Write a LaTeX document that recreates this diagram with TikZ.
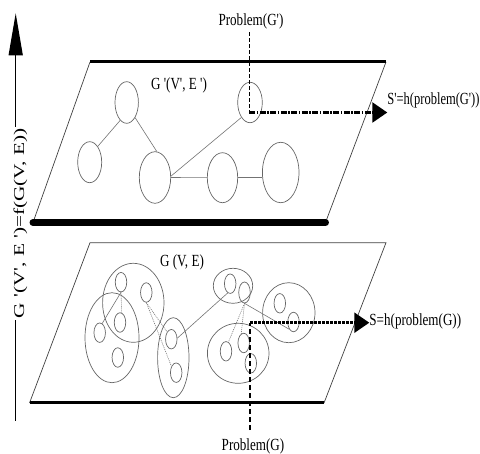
\documentclass[tikz,border=0pt]{standalone}
\usepackage{fontspec}
\setmainfont{Liberation Serif}
\usetikzlibrary{shapes.geometric,arrows.meta}
\newcommand\sq{\textquotesingle}
\begin{document}
\begin{tikzpicture}[x=1pt,y=-1pt,
  side/.style={line width=0.7pt, draw=black!75},
  vtx/.style n args={2}{ellipse, draw=black!60, line width=0.7pt, inner sep=0pt,
    minimum width=#1, minimum height=#2},
  sm/.style={vtx={11.5}{19.5}},
  link/.style={draw=black!55, line width=0.6pt},
  dlink/.style={draw=black!55, line width=0.6pt, dash pattern=on 1pt off 1pt},
  lbl/.style={font=\fontsize{17}{19}\selectfont, xscale=0.77, inner sep=0pt},
  bigtip/.style={-{Triangle[length=15pt,width=20pt]}},
]
\useasboundingbox (0,0) rectangle (480,454);

% ---------- upper plane ----------
\coordinate (u1) at (90,62);
\coordinate (u2) at (386,62);
\coordinate (u3) at (325.5,222.5);
\coordinate (u4) at (33,222.5);
\draw[side] (u1) -- (u4);
\draw[side] (u2) -- (u3);
\draw[line width=3pt] (u1) -- (u2);
\draw[line width=7pt, line cap=round] (u4) -- (u3);

% ---------- lower plane ----------
\coordinate (l1) at (90,242.7);
\coordinate (l2) at (386,242.7);
\coordinate (l3) at (324,403);
\coordinate (l4) at (29.5,403);
\draw[side] (l4) -- (l1) -- (l2) -- (l3);
\draw[line width=3pt] (l4) -- (l3);

% ---------- upper graph ----------
\node[vtx={23.4}{41.6}] (A) at (126.7,102.5) {};
\node[vtx={24}{41}]     (B) at (89.7,162.2) {};
\node[vtx={31.4}{51.6}] (C) at (155,177.5) {};
\node[vtx={30.4}{50}]   (D) at (222.5,177.7) {};
\node[vtx={36.6}{60.4}] (E) at (280.7,172.5) {};
\node[vtx={24.6}{40.4}] (F) at (250,102.5) {};
\draw[link] (A.250) -- (B.63);
\draw[link] (A.299) -- (C.86);
\draw[link] (C.5) -- (F.240);
\draw[link] (C.east) -- (D.west);
\draw[link] (D.east) -- (E.west |- D.east);
\node[lbl, anchor=base] (gp) at (179,89.5) {G \sq(V\sq, E \sq)};

% ---------- lower graph ----------
\node[vtx={61.4}{79}] (K1) at (133.3,302.8) {};
\node[vtx={54}{90}]   (K2) at (112,337.7) {};
\node[vtx={31.4}{80}] (K3) at (173.3,357.7) {};
\node[vtx={39.4}{35}] (K4) at (233,285.8) {};
\node[vtx={52.4}{60}] (K5) at (288.8,312.7) {};
\node[vtx={61.6}{60}] (K6) at (238.2,353.3) {};
\node[sm] (n1) at (121,282.2) {};
\node[sm] (n2) at (146.3,292.5) {};
\node[sm] (n3) at (120,322.5) {};
\node[sm] (n4) at (99.7,332.7) {};
\node[sm] (n5) at (117.8,357.5) {};
\node[sm] (n6) at (171.3,339.2) {};
\node[sm] (n7) at (176.2,372.7) {};
\node[sm] (n8) at (230.2,283.7) {};
\node[vtx={11.5}{21}] (n9) at (244.5,292.5) {};
\node[sm] (n10) at (279.8,303.3) {};
\node[sm] (n11) at (293.5,322) {};
\node[sm] (n12) at (226,351.3) {};
\node[sm] (n13) at (243.7,343) {};
\node[sm] (n14) at (250.8,363.3) {};
\draw[link]  (n1.south) -- (n4.75);
\draw[dlink] (n1.south) -- (n3.80);
\draw[dlink] (n2.south) -- (n6.120);
\draw[dlink] (n2.south) -- (n7.127);
\draw[link]  (n6.10) -- (n8.255);
\draw[dlink] (n9.south) -- (n12.75);
\draw[dlink] (n9.south) -- (n13.105);
\draw[link]  (n9.south) -- (n11.240);
\node[lbl, anchor=base] (g) at (182,267) {G (V, E)};

% ---------- problem / solution arrows ----------
\node[lbl, anchor=base] (pgp) at (251,25.5) {Problem(G\sq)};
\node[lbl, xscale=0.955, anchor=base west] (sp) at (387.3,105) {S\sq=h(problem(G\sq))};
\coordinate (c1) at (249.3,112.5);
\draw[line width=1.4pt, dash pattern=on 4pt off 2pt, shorten <=3pt] (pgp.south -| c1) -- (c1);
\draw[line width=2.4pt, dash pattern=on 6pt off 1.5pt on 1.5pt off 1.5pt, bigtip] (c1) -- (c1 -| sp.west);

\node[lbl, anchor=base] (pg) at (253,451) {Problem(G)};
\node[lbl, anchor=base west] (s) at (369.3,326) {S=h(problem(G))};
\coordinate (c2) at (250,322.7);
\draw[line width=1.4pt, dash pattern=on 5pt off 3pt, shorten <=9pt] (pg.north -| c2) -- (c2);
\draw[line width=2.4pt, dash pattern=on 2.5pt off 1.5pt, bigtip] (c2) -- (c2 -| s.west);

% ---------- vertical axis ----------
\node[rotate=90, xscale=1.42, anchor=base, inner sep=1pt,
  font=\fontsize{15}{17}\selectfont] (ax) at (24,223.5) {G \sq(V\sq, E \sq)=f(G(V, E))};
\coordinate (vb) at (15.7,421);
\coordinate (vt) at (15.7,13.3);
\draw[line width=1.3pt] (vb) -- (vb |- ax.west);
\draw[line width=1.3pt, -{Triangle[length=42pt,width=14pt]}] (vt |- ax.east) -- (vt);
\end{tikzpicture}
\end{document}
